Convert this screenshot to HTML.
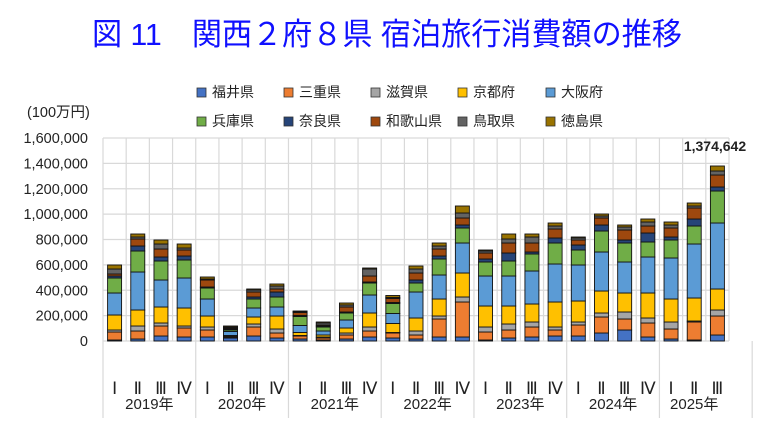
<!DOCTYPE html>
<html><head><meta charset="utf-8"><style>
body{margin:0;background:#fff;width:771px;height:435px;overflow:hidden;font-family:"Liberation Sans","Noto Sans CJK JP",sans-serif}
</style></head><body>
<svg id="s" width="771" height="435" xmlns="http://www.w3.org/2000/svg" font-family="Liberation Sans, Noto Sans CJK JP, sans-serif"></svg>
<script>
const s=document.getElementById('s');
let h='';
h+='<text x="387" y="45" text-anchor="middle" font-size="31" fill="#1010ff" textLength="590" lengthAdjust="spacingAndGlyphs">図 11　関西２府８県 宿泊旅行消費額の推移</text>';
const cols=['#4472C4','#ED7D31','#A5A5A5','#FFC000','#5B9BD5','#70AD47','#264478','#9E480E','#636363','#997300'];
const names=['福井県','三重県','滋賀県','京都府','大阪府','兵庫県','奈良県','和歌山県','鳥取県','徳島県'];
const lx=[197,284,371,458,546];
for(let i=0;i<10;i++){const x=lx[i%5],y=i<5?88:117;
h+=`<rect x="${x}" y="${y}" width="9" height="9" fill="${cols[i]}" stroke="#333" stroke-width="0.8"/><text x="${x+15}" y="${y+9}" font-size="14" fill="#222">${names[i]}</text>`;}
h+='<text x="27" y="117" font-size="14.5" fill="#222">(100万円)</text>';
const base=341,step=25.375;
for(let k=0;k<=8;k++){const y=base-k*step;
h+=`<line x1="103" x2="729" y1="${y}" y2="${y}" stroke="#d9d9d9" stroke-width="1.2"/>`;
const v=(k*200000).toLocaleString('en-US');
h+=`<text x="88" y="${y+5}" text-anchor="end" font-size="14.5" fill="#222">${v}</text>`;}
const cw=(729-103)/27;
for(let i=0;i<=27;i++){const x=103+i*cw;
h+=`<line x1="${x}" x2="${x}" y1="138" y2="341" stroke="#d9d9d9" stroke-width="1.2"/>`;}
for(let yI=0;yI<=7;yI++){const x=103+yI*4*cw;
h+=`<line x1="${x}" x2="${x}" y1="341" y2="418" stroke="#d9d9d9" stroke-width="1.2"/>`;}
const D=[
[1,8,2,15,22,15,2,2,5,4],[2,8,5,16,38,21,5,7,2,3],[5,10,3,16,27,19,4,8,5,4],[4,9,2,18,30,18,4,6,2,4],
[4,7,3,11,17,11,1,7,1,2],[3,1,0.5,1,4,1.5,1,1,1,1],[5,9,3,7,9,9,2,5,2,1],[3,5,4,13,9,10,5,3,3,2],
[2,3,0.5,3,7,9,1,3,1,0.5],[1,2,1,2,4,4,1,1,2,1],[2,4,2,5,8,7,1,5,2,2],[4,6,4,14,18,12,1,6,7,1],
[3,5,0.5,9,10,10,1,4,1,2],[2,4,4,13,26,9,3,7,4,3],[4,18,3,17,24,16,3,7,3,3],[4,35,5,24,30,15,3,7,5,7],
[1,8,5,21,30,14,3,6,2,1],[3,8,6,18,30,15,8,10,4,5],[4,10,5,18,33,17,2,9,6,3],[5,6,3,25,38,21,5,9,3,3],
[5,11,3,21,36,15,5,5,2,1],[8,16,4,22,39,21,6,7,2,2],[11,11,7,19,31,19,3,10,3,2],[4,14,5,25,36,15,9,7,4,3],
[2,10,7,23,41,18,3,9,3,3],[1,18,1,23,54,18,7,11,2,3],[6,19,6,21,66,32,4,12,4,5]];
D.forEach((d,i)=>{const cx=103+(i+0.5)*cw;let y=base;
d.forEach((v,j)=>{const y2=y-v;
h+=`<rect x="${cx-7}" y="${y2}" width="14" height="${v}" fill="${cols[j]}" stroke="#111" stroke-width="0.9"/>`;y=y2;});
h+=`<text x="${cx}" y="394" text-anchor="middle" font-size="17" font-family="Liberation Serif, serif" fill="#222">${['Ⅰ','Ⅱ','Ⅲ','Ⅳ'][i%4]}</text>`;});
for(let yI=0;yI<7;yI++){const span=yI<6?4:3;const x=103+(yI*4+span/2)*cw;
h+=`<text x="${x}" y="409" text-anchor="middle" font-size="15" fill="#222">${2019+yI}年</text>`;}
h+='<text x="715" y="151" text-anchor="middle" font-size="14" font-weight="bold" fill="#222">1,374,642</text>';
s.innerHTML=h;
</script>
</body></html>
